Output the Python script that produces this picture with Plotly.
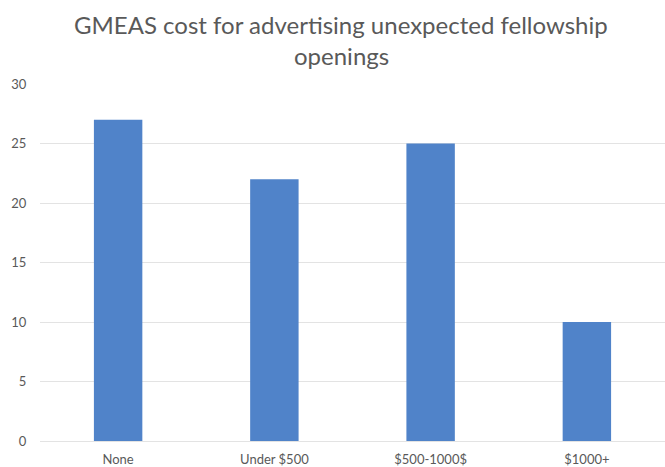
import plotly.graph_objects as go

categories = ["None", "Under $500", "$500-1000$", "$1000+"]
counts = [27, 22, 25, 10]
y_ticks = [0, 5, 10, 15, 20, 25, 30]
title_lines = ["GMEAS cost for advertising unexpected fellowship", "openings"]

text_color = "#595959"
bar_color = "#5083C9"
grid_color = "#E3E3E3"
font_family = "Lato, 'Open Sans', sans-serif"

fig = go.Figure(
    go.Bar(
        x=categories,
        y=counts,
        marker=dict(color=bar_color, line=dict(width=0)),
    )
)

# two-line chart title, centred on the whole figure width
title_offsets = [60, 29]
annotations = [
    dict(
        text=line,
        xref="paper",
        yref="paper",
        x=0.4816,
        y=1,
        xanchor="center",
        yanchor="middle",
        yshift=shift,
        showarrow=False,
        font=dict(family=font_family, size=24, color=text_color),
    )
    for line, shift in zip(title_lines, title_offsets)
]

fig.update_layout(
    width=665,
    height=467,
    margin=dict(l=40, r=0, t=84, b=26),
    paper_bgcolor="white",
    plot_bgcolor="white",
    bargap=0.69,
    showlegend=False,
    font=dict(family=font_family, color=text_color, size=13),
    annotations=annotations,
)

fig.update_xaxes(
    automargin=False,
    showgrid=False,
    showline=True,
    linecolor=grid_color,
    linewidth=1,
    ticks="outside",
    ticklen=6,
    tickcolor="rgba(0,0,0,0)",
    tickfont=dict(size=13, color=text_color),
)

fig.update_yaxes(
    automargin=False,
    range=[0, 30],
    tickvals=y_ticks,
    showgrid=True,
    gridcolor=grid_color,
    gridwidth=1,
    zeroline=False,
    showline=False,
    ticks="outside",
    ticklen=10,
    tickcolor="rgba(0,0,0,0)",
    tickfont=dict(size=13, color=text_color),
)

fig.write_html("out.html")
